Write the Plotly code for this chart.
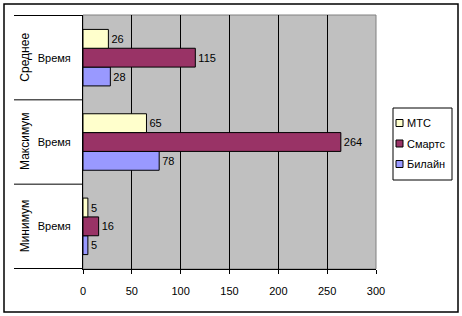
import plotly.graph_objects as go

# ---- data ----
groups = ["Минимум", "Максимум", "Среднее"]          # bottom -> top
inner_label = "Время"
series_names = ["МТС", "Смартс", "Билайн"]
series_colors = ["#FFFFCC", "#993366", "#9999FF"]
values = {
    "МТС":    [5, 65, 26],
    "Смартс": [16, 264, 115],
    "Билайн": [5, 78, 28],
}
x_ticks = [0, 50, 100, 150, 200, 250, 300]

# ---- geometry (pixels) ----
W, H = 462, 316
PL, PR, PT, PB = 83, 376, 15, 269
pw, ph = PR - PL, PB - PT

def px(x):
    return (x - PL) / pw

def py(y):
    return (PB - y) / ph

FONT = "Liberation Sans, Arial, sans-serif"

fig = go.Figure()
# plotly stacks first trace at bottom of group; reverse so МТС is on top
for name, col in reversed(list(zip(series_names, series_colors))):
    fig.add_trace(go.Bar(
        y=groups, x=values[name], name=name, orientation="h",
        marker=dict(color=col, line=dict(color="black", width=1)),
        text=values[name], textposition="outside", cliponaxis=False,
        textfont=dict(family=FONT, size=11, color="black"),
        showlegend=False,
    ))

shapes = []
# outer chart border
shapes.append(dict(type="rect", xref="paper", yref="paper",
                   x0=px(4), x1=px(458), y0=py(312), y1=py(4),
                   line=dict(color="black", width=1.5), layer="below"))
# plot area border (gray)
shapes.append(dict(type="rect", xref="paper", yref="paper",
                   x0=0, x1=1, y0=0, y1=1,
                   line=dict(color="#808080", width=1), layer="below"))
# category divider lines in the label area
for b in [-0.5, 0.5, 1.5, 2.5]:
    shapes.append(dict(type="line", xref="paper", yref="y",
                       x0=px(14), x1=0, y0=b, y1=b,
                       line=dict(color="black", width=1)))

annotations = []
# outer rotated group labels
for g in groups:
    annotations.append(dict(xref="paper", yref="y", x=px(25), y=g,
                            text=g, showarrow=False, textangle=-90,
                            font=dict(family=FONT, size=12, color="black"),
                            xanchor="center", yanchor="middle"))

# manual legend
lx0, lx1, ly0, ly1 = 393, 452, 108, 180
shapes.append(dict(type="rect", xref="paper", yref="paper",
                   x0=px(lx0), x1=px(lx1), y0=py(ly1), y1=py(ly0),
                   line=dict(color="black", width=1), fillcolor="white"))
for i, (name, col) in enumerate(zip(series_names, series_colors)):
    cy = 123 + i * 20.5
    shapes.append(dict(type="rect", xref="paper", yref="paper",
                       x0=px(396), x1=px(403), y0=py(cy + 3.5), y1=py(cy - 3.5),
                       line=dict(color="black", width=1), fillcolor=col))
    annotations.append(dict(xref="paper", yref="paper", x=px(405), y=py(cy),
                            text=name, showarrow=False,
                            font=dict(family=FONT, size=11, color="black"),
                            xanchor="left", yanchor="middle"))

fig.update_layout(
    width=W, height=H,
    margin=dict(l=PL, r=W - PR, t=PT, b=H - PB, pad=0),
    paper_bgcolor="white", plot_bgcolor="#C0C0C0",
    barmode="group", bargap=0.33, bargroupgap=0,
    font=dict(family=FONT, size=11, color="black"),
    shapes=shapes, annotations=annotations,
    xaxis=dict(range=[0, 300], tickvals=x_ticks, showgrid=True,
               gridcolor="black", gridwidth=1, zeroline=False,
               showline=True, linecolor="black", linewidth=1,
               ticks="outside", ticklen=4, tickcolor="black",
               ticklabelstandoff=8, fixedrange=True),
    yaxis=dict(categoryorder="array", categoryarray=groups,
               tickvals=groups, ticktext=[inner_label] * len(groups),
               showgrid=False, zeroline=False,
               showline=True, linecolor="black", linewidth=1,
               ticks="", ticklabelstandoff=9, fixedrange=True),
)

fig.write_html("out.html")
